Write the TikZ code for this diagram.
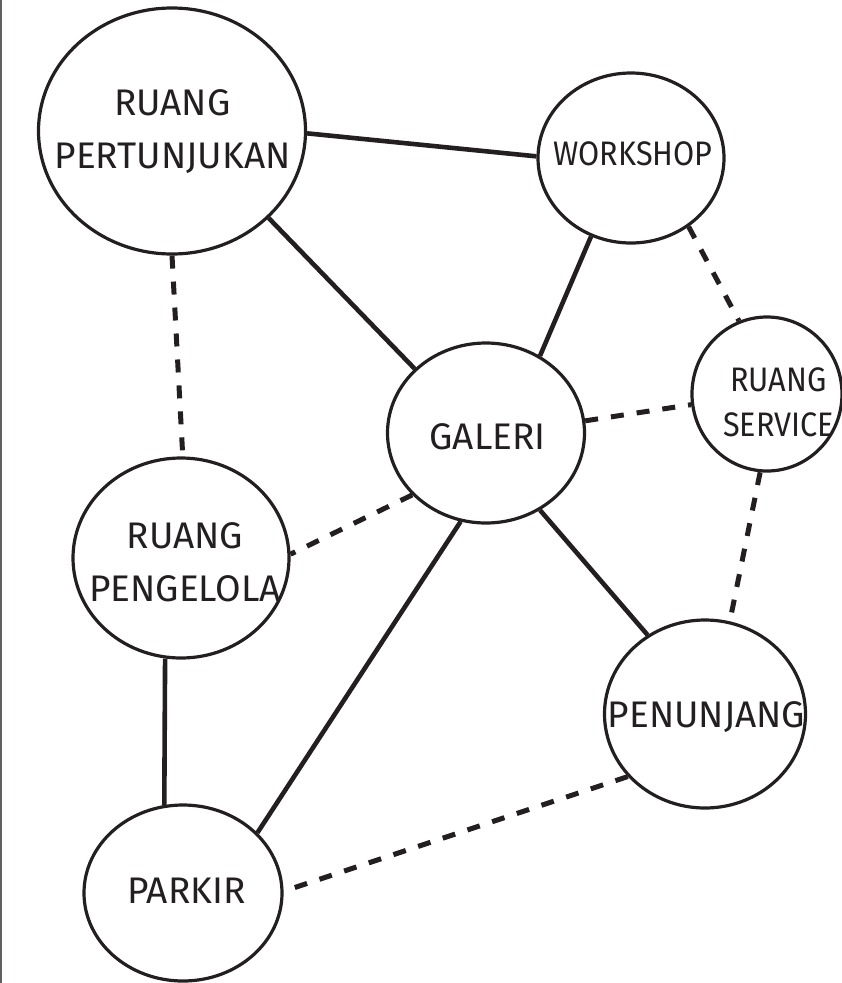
\documentclass[tikz,border=0pt]{standalone}
\usepackage{fontspec}
\setmainfont{Fira Sans}
\usetikzlibrary{shapes.geometric}
\definecolor{ink}{RGB}{35,31,32}
\definecolor{rim}{RGB}{100,95,95}

\begin{document}
\begin{tikzpicture}[x=1pt, y=-1pt,
  room/.style={draw=ink, ellipse, line width=3.2pt, inner sep=0pt},
  lbl/.style={text=ink, align=center, font=\fontsize{37}{53}\selectfont},
  slbl/.style={lbl, font=\fontsize{34}{45}\selectfont\addfontfeature{FakeStretch=0.9}},
  link/.style={draw=ink, line width=4.6pt},
  dlink/.style={draw=ink, line width=5pt, dash pattern=on 13pt off 13pt}]
\useasboundingbox (0,0) rectangle (842,983);
\draw[rim, line width=2pt] (1,0) -- (1,983);

\node[room, minimum width=267, minimum height=246,
  label={[lbl, xshift=0.5, yshift=-1]center:{RUANG\\PERTUNJUKAN}}] (rp) at (172,131) {};
\node[room, minimum width=186, minimum height=170,
  label={[slbl, xshift=2, yshift=4.5]center:WORKSHOP}] (ws) at (631,158) {};
\node[room, minimum width=150, minimum height=154,
  label={[slbl, xshift=11.5, yshift=-8.5]center:{RUANG\\SERVICE}}] (sv) at (767,394) {};
\node[room, minimum width=197, minimum height=180,
  label={[lbl, xshift=1.5, yshift=-3.5]center:GALERI}] (gal) at (486,433) {};
\node[room, minimum width=216, minimum height=200,
  label={[lbl, xshift=4, yshift=-4]center:{RUANG\\PENGELOLA}}] (peng) at (181,558) {};
\node[room, minimum width=201, minimum height=188,
  label={[lbl, xshift=1.5, yshift=-3.5]center:PENUNJANG}] (pen) at (705,714) {};
\node[room, minimum width=198, minimum height=176,
  label={[lbl, xshift=3.5, yshift=2.5]center:PARKIR}] (park) at (183,893) {};

\draw[link] (rp.-1) -- (ws.179);
\draw[link] (rp.-42) -- (gal.138);
\draw[dlink] (rp.-90) -- (peng.89);
\draw[link] (ws.-117) -- (gal.55);
\draw[dlink] (ws.-50) -- (sv.111);
\draw[dlink] (gal.7) -- (sv.188);
\draw[dlink] (gal.220) -- (peng.2);
\draw[link] (gal.-55) -- (pen.126);
\draw[dlink] (sv.265) -- (pen.75);
\draw[link] (gal.254) -- (park.39);
\draw[link] (peng.261) -- (park.102);
\draw[dlink] (pen.219) -- (park.1);
\end{tikzpicture}
\end{document}
